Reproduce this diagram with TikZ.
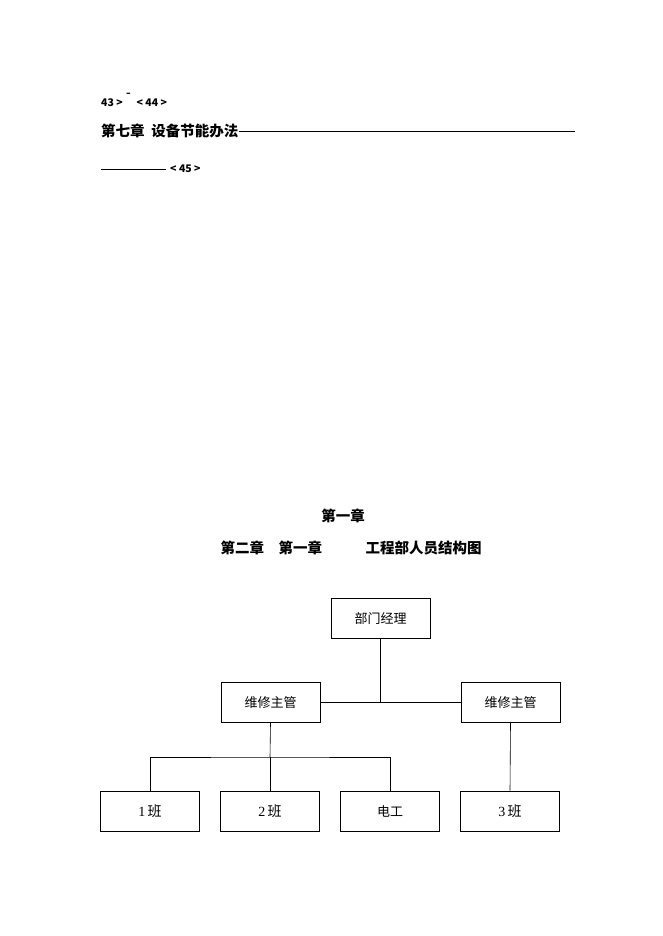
\documentclass[tikz,border=0pt]{standalone}
\usepackage{fontspec}
\setmainfont{Liberation Serif}
\newfontfamily\cjk{Noto Sans CJK SC}
\begin{document}
\begin{tikzpicture}[x=1pt,y=-1pt,
  box/.style={draw,line width=0.6pt,minimum width=99pt,minimum height=40pt,inner sep=0pt,font=\cjk\fontsize{13}{13}\selectfont},
  hd/.style={anchor=west,inner sep=0pt,font=\cjk\bfseries\fontsize{14.5}{14.5}\selectfont},
  sm/.style={anchor=west,inner sep=0pt,font=\cjk\bfseries\fontsize{10.5}{10.5}\selectfont},
  ln/.style={line width=0.6pt}]
\useasboundingbox (0,0) rectangle (662,936);
\node[sm] (l1) at (101,100) {43 >\ \raisebox{5pt}{¯}\ \ < 44 >};
\node[hd] (l2) at (101,131) {第七章\ \ 设备节能办法};
\coordinate (e2) at (575,131);
\draw[line width=0.8pt] (l2.east) -- (e2);
\coordinate (s3) at (101,169);
\node[sm] (l3) at (170,169) {< 45 >};
\draw[line width=0.8pt] (s3) -- (166,169);
\node[hd,anchor=center] (t1) at (343,516) {第一章};
\node[hd,anchor=center] (t2) at (351,548) {第二章\quad 第一章\qquad\quad 工程部人员结构图};
\node[box] (m) at (380.5,618.5) {部门经理};
\node[box] (a) at (270.5,702.5) {维修主管};
\node[box] (b) at (510.5,702.5) {维修主管};
\node[box,font=\fontsize{14}{14}\selectfont] (c1) at (150,811) {1\,{\cjk 班}};
\node[box,font=\fontsize{14}{14}\selectfont] (c2) at (270,811) {2\,{\cjk 班}};
\node[box] (c3) at (390,811) {电工};
\node[box,font=\fontsize{14}{14}\selectfont] (c4) at (510,811) {3\,{\cjk 班}};
\draw[ln] (a.east) -- (b.west);
\draw[ln] (m.south) -- (m.south |- a.east);
\coordinate (j) at (270,757);
\draw[ln] (a.south) -- (j);
\draw[ln] (c1.north) |- (j) -| (c3.north);
\draw[ln] (j) -- (c2.north);
\draw[ln] (b.south) -- (c4.north);
\end{tikzpicture}
\end{document}
